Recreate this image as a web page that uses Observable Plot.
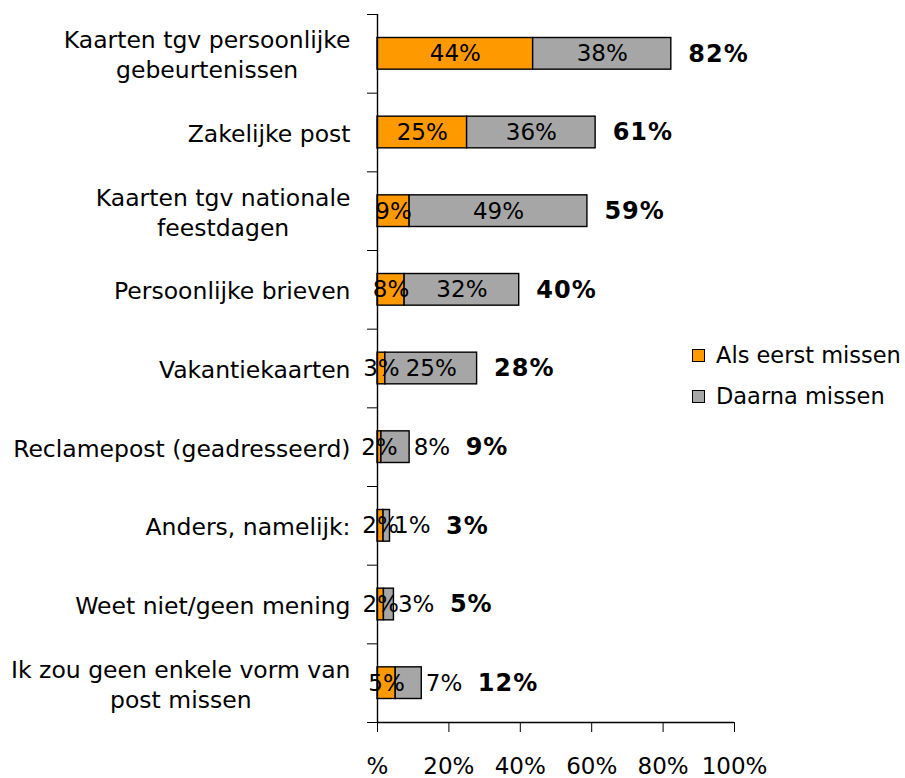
<!DOCTYPE html>
<html><head><meta charset="utf-8">
<script src="https://cdn.jsdelivr.net/npm/d3@7"></script>
<script src="https://cdn.jsdelivr.net/npm/@observablehq/plot@0.6"></script>
<style>
body{margin:0;background:#fff;font-family:"DejaVu Sans",sans-serif;}
#wrap{position:relative;width:905px;height:778px;}
.legend{position:absolute;left:692px;top:340px;font-size:22.5px;color:#000;font-family:"DejaVu Sans",sans-serif;}
.legend .item{display:flex;align-items:center;height:30px;margin-bottom:11px;white-space:nowrap;}
.legend .sw{width:11px;height:11px;border:1px solid #000;margin-right:11px;flex:none;}
</style></head><body><div id="wrap"></div>
<script>
const categories = [
  "Kaarten tgv persoonlijke\ngebeurtenissen",
  "Zakelijke post",
  "Kaarten tgv nationale\nfeestdagen",
  "Persoonlijke brieven",
  "Vakantiekaarten",
  "Reclamepost (geadresseerd)",
  "Anders, namelijk:",
  "Weet niet/geen mening",
  "Ik zou geen enkele vorm van\npost missen"
];
const series = ["Als eerst missen", "Daarna missen"];
const firstValues  = [43.6, 25.1, 9.0, 7.6, 2.2, 1.1, 1.7, 1.8, 5.1];
const secondValues = [38.7, 36.0, 49.8, 32.1, 25.7, 7.9, 1.8, 2.8, 7.3];
const firstLabels  = ["44%", "25%", "9%", "8%", "3%", "2%", "2%", "2%", "5%"];
const secondLabels = ["38%", "36%", "49%", "32%", "25%", "8%", "1%", "3%", "7%"];
const totalLabels  = ["82%", "61%", "59%", "40%", "28%", "9%", "3%", "5%", "12%"];
const xTicks = [0, 20, 40, 60, 80, 100];
const xTickLabels = ["%", "20%", "40%", "60%", "80%", "100%"];
const colors = ["#ff9900", "#a6a6a6"];

const rows = categories.map((c, i) => ({
  cat: c, i, first: firstValues[i], second: secondValues[i],
  total: firstValues[i] + secondValues[i],
  fl: firstLabels[i], sl: secondLabels[i], tl: totalLabels[i]
}));
const segs = rows.flatMap(r => [
  {i: r.i, x1: 0, x2: r.first, series: series[0]},
  {i: r.i, x1: r.first, x2: r.total, series: series[1]}
]);
const n = categories.length;
const inside = rows.filter(d => d.second >= 10);
const outside = rows.filter(d => d.second < 10);

const chart = Plot.plot({
  width: 905, height: 778,
  marginLeft: 377, marginRight: 171, marginTop: 14, marginBottom: 56,
  style: {fontFamily: "DejaVu Sans", fontSize: "23px", color: "#000", background: "#fff", overflow: "visible"},
  x: {domain: [0, 100], ticks: xTicks, tickFormat: d => xTickLabels[xTicks.indexOf(d)], tickSize: 10, tickPadding: 25, label: null},
  y: {domain: [0, n], reverse: true, ticks: d3.range(n + 1), tickSize: 10, tickFormat: () => "", label: null},
  color: {domain: series, range: colors},
  marks: [
    Plot.rectX(segs, {x1: "x1", x2: "x2", y1: d => d.i, y2: d => d.i + 1, insetTop: 23.5, insetBottom: 23.5, fill: "series", stroke: "#000", strokeWidth: 1.4}),
    Plot.ruleX([0], {stroke: "#000", strokeWidth: 1.4}),
    Plot.ruleY([n], {stroke: "#000", strokeWidth: 1.4}),
    Plot.text(rows, {x: 0, y: d => d.i + 0.5, text: "cat", textAnchor: "end", lineAnchor: "middle", lineHeight: 1.27, dx: -27, fontSize: 23.5}),
    Plot.text(rows, {x: d => d.first / 2, y: d => d.i + 0.5, text: "fl"}),
    Plot.text(inside, {x: d => d.first + d.second / 2, y: d => d.i + 0.5, text: "sl"}),
    Plot.text(outside, {x: "total", y: d => d.i + 0.5, text: "sl", textAnchor: "start", dx: 4}),
    Plot.text(inside, {x: "total", y: d => d.i + 0.5, text: "tl", textAnchor: "start", dx: 17, fontWeight: "bold", fontSize: 24}),
    Plot.text(outside, {x: "total", y: d => d.i + 0.5, text: "tl", textAnchor: "start", dx: 56, fontWeight: "bold", fontSize: 24})
  ]
});
const wrap = document.getElementById("wrap");
wrap.appendChild(chart);

// center the lines of multi-line category labels within their block
d3.select(chart).selectAll("text").each(function() {
  const spans = this.querySelectorAll("tspan");
  if (spans.length > 1) {
    const widths = Array.from(spans, s => s.getComputedTextLength());
    const maxW = Math.max(...widths);
    spans.forEach((s, k) => {
      const shift = -(maxW - widths[k]) / 2;
      const cur = +(s.getAttribute("dx") || 0);
      s.setAttribute("dx", cur + shift);
    });
  }
  const fw = getComputedStyle(this).fontWeight;
  if (fw === "bold" || +fw >= 600) this.style.letterSpacing = "1px";
});

const legend = document.createElement("div");
legend.className = "legend";
series.forEach((s, k) => {
  const item = document.createElement("div");
  item.className = "item";
  const sw = document.createElement("span");
  sw.className = "sw";
  sw.style.background = colors[k];
  const lab = document.createElement("span");
  lab.textContent = s;
  item.appendChild(sw); item.appendChild(lab);
  legend.appendChild(item);
});
wrap.appendChild(legend);
</script>
</body></html>
